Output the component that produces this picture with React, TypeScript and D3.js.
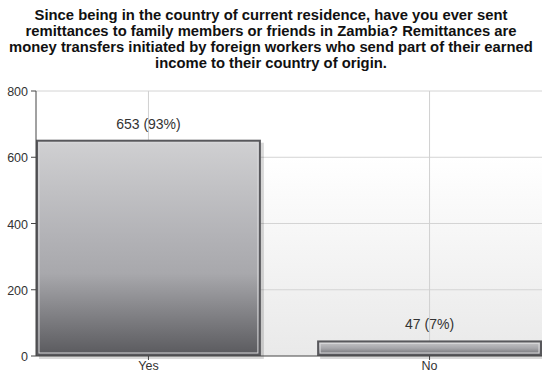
import React from "react";
import * as d3 from "d3";

const categories = ["Yes", "No"];
const counts = [653, 47];
const labels = ["653 (93%)", "47 (7%)"];
const yTicks = [0, 200, 400, 600, 800];
const titleLines = [
  "Since being in the country of current residence, have you ever sent",
  "remittances to family members or friends in Zambia?  Remittances are",
  "money transfers initiated by foreign workers who send part of their earned",
  "income to their country of origin.",
];

const W = 542;
const H = 372;
const left = 36;
const right = 542;
const top = 91;
const bottom = 356;

export default function App() {
  const x = d3.scaleBand<string>().domain(categories).range([left, right]).paddingInner(0.2).paddingOuter(0);
  const y = d3.scaleLinear().domain([0, 800]).range([bottom, top]);
  const font = "Arial, 'Liberation Sans', sans-serif";
  return (
    <svg width={W} height={H} style={{ position: "absolute", left: 0, top: 0, background: "#fff" }}>
      <defs>
        <linearGradient id="bg" x1="0" y1="0" x2="0" y2="1">
          <stop offset="0" stopColor="#ffffff" />
          <stop offset="1" stopColor="#e9e9e9" />
        </linearGradient>
        <linearGradient id="bar" x1="0" y1="0" x2="0" y2="1">
          <stop offset="0" stopColor="#d0d0d2" />
          <stop offset="0.45" stopColor="#b2b2b6" />
          <stop offset="0.62" stopColor="#a8a8ac" />
          <stop offset="1" stopColor="#5a5a5e" />
        </linearGradient>
        <linearGradient id="bar2" x1="0" y1="0" x2="0" y2="1">
          <stop offset="0" stopColor="#c9c9cb" />
          <stop offset="0.5" stopColor="#a6a6aa" />
          <stop offset="1" stopColor="#6a6a6e" />
        </linearGradient>
      </defs>
      <g fontFamily={font} fontWeight="bold" fontSize={14.8} fill="#111" textAnchor="middle" style={{ whiteSpace: "pre" }}>
        {titleLines.map((t, i) => (
          <text key={i} x={W / 2} y={20 + i * 16}>{t}</text>
        ))}
      </g>
      <rect x={left} y={y(600)} width={right - left} height={bottom - y(600)} fill="url(#bg)" />
      {yTicks.filter((v) => v > 0).map((v) => (
        <line key={v} x1={left} x2={right} y1={y(v)} y2={y(v)} stroke="#d4d4d4" strokeWidth={1} />
      ))}
      {categories.map((c) => (
        <line key={c} x1={x(c)! + x.bandwidth() / 2} x2={x(c)! + x.bandwidth() / 2} y1={top} y2={bottom} stroke="#d0d0d0" />
      ))}
      {categories.map((c, i) => {
        const bx = x(c)!;
        const bw = x.bandwidth();
        const by = y(counts[i]);
        const bh = bottom - by;
        return (
          <g key={c}>
            <rect x={bx + 3} y={by + 3} width={bw} height={bh} fill="#000" opacity={0.15} />
            <rect x={bx + 1} y={by + 1} width={bw - 2} height={bh - 2} fill={i === 0 ? "url(#bar)" : "url(#bar2)"} stroke="#58585c" strokeWidth={2} />
            <rect x={bx + 3} y={by + 3} width={bw - 6} height={Math.max(0, bh - 6)} fill="none" stroke="#d8d8da" strokeWidth={1} />
            <text x={bx + bw / 2} y={by - 11} textAnchor="middle" fontFamily={font} fontSize={14} fill="#333">{labels[i]}</text>
          </g>
        );
      })}
      <line x1={left} x2={left} y1={top} y2={bottom} stroke="#444" strokeWidth={1} />
      <line x1={left} x2={right} y1={bottom} y2={bottom} stroke="#444" strokeWidth={1} />
      {yTicks.map((v) => (
        <g key={v}>
          <line x1={left - 5} x2={left} y1={y(v)} y2={y(v)} stroke="#444" />
          <text x={left - 8} y={y(v) + 5} textAnchor="end" fontFamily={font} fontSize={12.5} fill="#333">{v}</text>
        </g>
      ))}
      {categories.map((c) => (
        <g key={c}>
          <line x1={x(c)! + x.bandwidth() / 2} x2={x(c)! + x.bandwidth() / 2} y1={bottom} y2={bottom + 4} stroke="#444" />
          <text x={x(c)! + x.bandwidth() / 2} y={bottom + 14} textAnchor="middle" fontFamily={font} fontSize={12.5} fill="#333">{c}</text>
        </g>
      ))}
    </svg>
  );
}
